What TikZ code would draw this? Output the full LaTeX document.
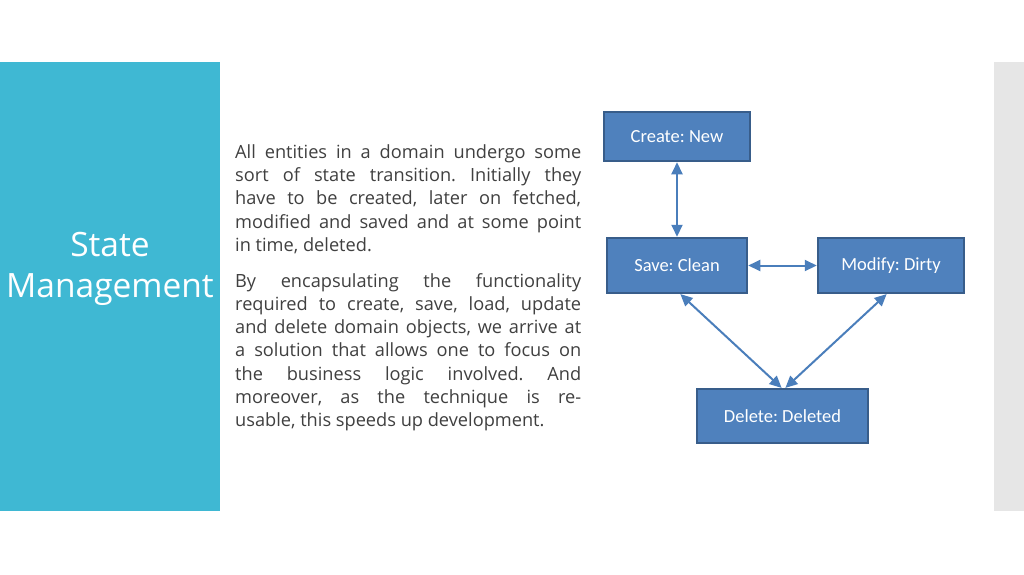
\documentclass[tikz,border=0pt]{standalone}
\usepackage{fontspec}
\setmainfont{Open Sans}
\newfontfamily\boxfont{Carlito}
\usetikzlibrary{arrows.meta}
\definecolor{teal}{HTML}{3FB8D3}
\definecolor{stripgray}{HTML}{E6E6E6}
\definecolor{boxfill}{HTML}{4F81BD}
\definecolor{boxline}{HTML}{385D8A}
\definecolor{arrowcol}{HTML}{4A7EBB}
\definecolor{bodytext}{HTML}{404040}
\frenchspacing
\tikzset{
  statebox/.style={draw=boxline, line width=1.5pt, fill=boxfill, text=white,
    font=\boxfont\fontsize{18.5}{21}\selectfont, inner sep=0pt, anchor=center},
  conn/.style={draw=arrowcol, line width=2pt, {Triangle[length=12pt,width=11pt]}-{Triangle[length=12pt,width=11pt]}, shorten <=0.5pt, shorten >=0.5pt}
}
\begin{document}
\begin{tikzpicture}[x=1pt,y=-1pt]
\useasboundingbox[fill=white] (0,0) rectangle (1024,574);
\fill[teal] (0,62) rectangle (220,511);
\fill[stripgray] (994,62) rectangle (1024,511);
\node[text=white, align=center, font=\fontsize{33.5}{41}\selectfont] (title) at (110,269) {State\\Management};
\node[anchor=north west, text=bodytext, text width=346pt, inner sep=0pt, align=justify,
  font=\fontsize{18.2}{23.2}\selectfont\frenchspacing] (body) at (235,144.5) {%
All entities in a domain undergo some\linebreak
sort of state transition. Initially they\linebreak
have to be created, later on fetched,\linebreak
modified and saved and at some point\linebreak
in time, deleted.\par\vspace{12.8pt}
By encapsulating the functionality\linebreak
required to create, save, load, update\linebreak
and delete domain objects, we arrive at\linebreak
a solution that allows one to focus on\linebreak
the business logic involved. And\linebreak
moreover, as the technique is re-\linebreak
usable, this speeds up development.};
\node[statebox, minimum width=146pt, minimum height=49pt] (create) at (677,136.5) {Create: New};
\node[statebox, minimum width=140pt, minimum height=55pt] (save) at (677,265.5) {Save: Clean};
\node[statebox, minimum width=146pt, minimum height=55pt] (modify) at (891,265.5) {Modify: Dirty};
\node[statebox, minimum width=171pt, minimum height=54pt] (delete) at (782.5,416) {Delete: Deleted};
\draw[conn] (create.south) -- (save.north);
\draw[conn] (save.east) -- (modify.east -| modify.west);
\draw[conn] ([xshift=3pt]save.south) -- ([xshift=-0.5pt]delete.north);
\draw[conn] ([xshift=-4pt]modify.south) -- ([xshift=2.5pt]delete.north);
\end{tikzpicture}
\end{document}
